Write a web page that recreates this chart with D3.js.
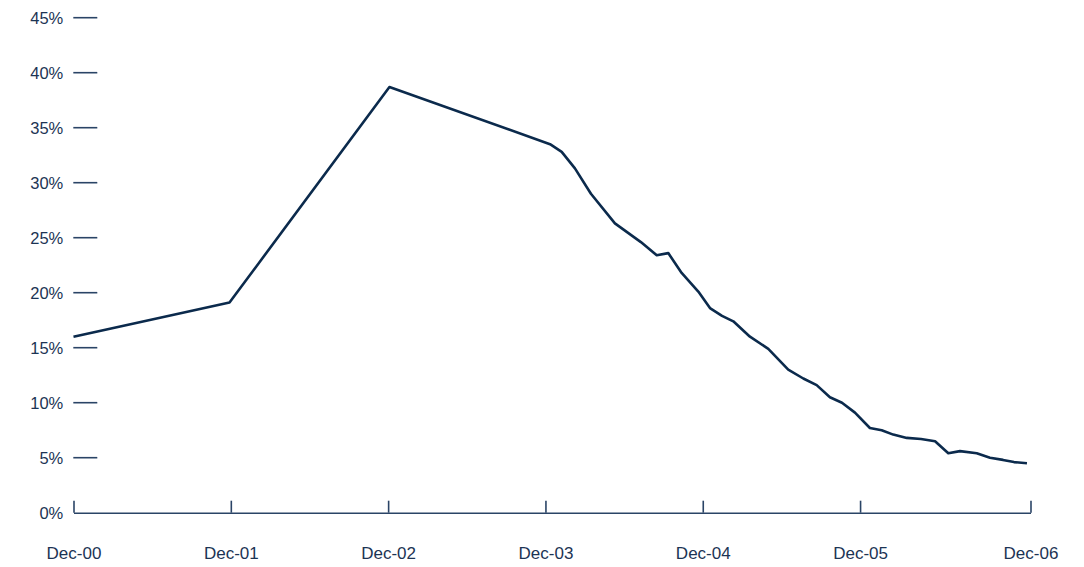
<!DOCTYPE html>
<html>
<head>
<meta charset="utf-8">
<script src="https://cdn.jsdelivr.net/npm/d3@7"></script>
<style>
  html, body { margin: 0; padding: 0; background: #ffffff; }
  svg { display: block; }
  .tick-label { font-family: "Liberation Sans", Arial, sans-serif; fill: #1c3454; }
</style>
</head>
<body>
<svg id="chart" width="1084" height="567"></svg>
<script>
// Observation dates, in months since December 2000
const months = [
  0, 11.9, 24.1, 36.35, 37.24, 38.25, 39.47, 41.3, 43.28, 44.49, 45.37,
  46.39, 47.66, 48.55, 49.47, 50.33, 51.6, 53.0, 54.52, 55.67, 56.69,
  57.7, 58.62, 59.61, 60.75, 61.65, 62.53, 63.56, 64.65, 65.72, 66.73,
  67.62, 68.9, 69.91, 70.9, 71.74, 72.73
];
// Rate at each observation, in percent
const rates = [
  16.0, 19.1, 38.7, 33.5, 32.8, 31.3, 29.0, 26.3, 24.6, 23.4, 23.6,
  21.8, 20.1, 18.6, 17.9, 17.4, 16.0, 14.9, 13.0, 12.2, 11.6,
  10.5, 10.0, 9.1, 7.7, 7.5, 7.1, 6.8, 6.7, 6.5, 5.4,
  5.6, 5.4, 5.0, 4.8, 4.6, 4.5
];
// Axis ticks
const xTickMonths = [0, 12, 24, 36, 48, 60, 73];
const xTickLabels = ["Dec-00", "Dec-01", "Dec-02", "Dec-03", "Dec-04", "Dec-05", "Dec-06"];
const yTickValues = [0, 5, 10, 15, 20, 25, 30, 35, 40, 45];

const svg = d3.select("#chart");
const ink = "#0b2a4c";
const axisInk = "#2a4466";

const x = d3.scaleLinear().domain([0, 73]).range([73.5, 1030.5]);
const y = d3.scaleLinear().domain([0, 45]).range([512.7, 17.7]);

// Horizontal value ticks (short dashes to the right of the labels)
const yAxis = svg.append("g").attr("transform", "translate(73.3,0)");
yAxis.selectAll("line")
  .data(yTickValues.filter(v => v > 0))
  .join("line")
  .attr("x1", 0).attr("x2", 24)
  .attr("y1", d => y(d)).attr("y2", d => y(d))
  .attr("stroke", axisInk).attr("stroke-width", 1.6);
yAxis.selectAll("text")
  .data(yTickValues)
  .join("text")
  .attr("class", "tick-label")
  .attr("x", -10)
  .attr("y", d => y(d))
  .attr("dy", "0.36em")
  .attr("text-anchor", "end")
  .style("font-size", "16.5px")
  .text(d => d + "%");

// Date axis along the baseline, ticks pointing up
const xAxis = d3.axisBottom(x)
  .tickValues(xTickMonths)
  .tickSizeInner(-12)
  .tickSizeOuter(0)
  .tickPadding(34)
  .tickFormat((d, i) => xTickLabels[i]);
const gx = svg.append("g")
  .attr("transform", `translate(0,${y(0)})`)
  .call(xAxis);
gx.select(".domain").attr("stroke", axisInk).attr("stroke-width", 1.6);
gx.selectAll(".tick line").attr("stroke", axisInk).attr("stroke-width", 1.6);
gx.selectAll(".tick text")
  .attr("class", "tick-label")
  .style("font-size", "17px")
  .attr("fill", "#1c3454");

// Rate series
const series = months.map((m, i) => ({ m, v: rates[i] }));
svg.append("path")
  .datum(series)
  .attr("fill", "none")
  .attr("stroke", ink)
  .attr("stroke-width", 2.6)
  .attr("stroke-linejoin", "round")
  .attr("d", d3.line().x(d => x(d.m)).y(d => y(d.v)));
</script>
</body>
</html>
